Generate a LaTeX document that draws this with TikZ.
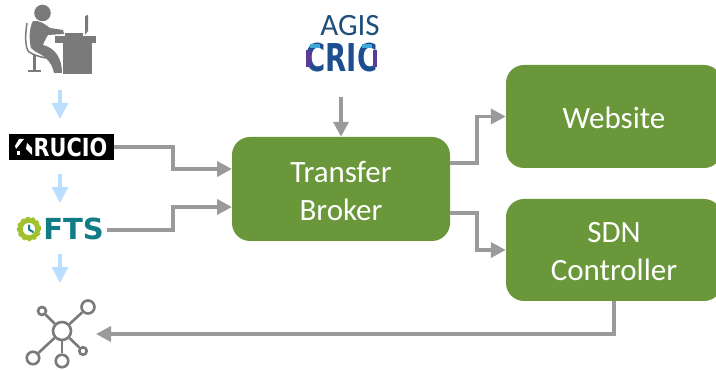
\documentclass[tikz,border=0pt]{standalone}
\usepackage{fontspec}
\setmainfont{Carlito}
\newfontfamily\logofont{DejaVu Sans}
\usetikzlibrary{arrows.meta}
\newcommand{\lowered}[1]{\raisebox{-1.6pt}[\height][\depth]{#1}}
\definecolor{boxgreen}{HTML}{6A973A}
\definecolor{linegray}{HTML}{9A9A9A}
\definecolor{icongray}{HTML}{7A7A7A}
\definecolor{lightblue}{HTML}{BBDEFF}
\definecolor{agisblue}{HTML}{1F4E79}
\definecolor{ftsteal}{HTML}{0F7C86}
\definecolor{cricblue}{HTML}{1D4E8F}
\definecolor{cricpurple}{HTML}{5B3A9A}
\definecolor{criccyan}{HTML}{3FA7DC}
\definecolor{ftsgreen}{HTML}{A2C12F}
\tikzset{
  box/.style={draw=none,fill=boxgreen,rounded corners=18pt,text=white,align=center,font=\fontsize{31}{38}\selectfont,inner sep=0pt},
  flow/.style={draw=linegray,line width=3.6pt,-{Triangle[length=15pt,width=15pt]}},
  downarrow/.style={draw=lightblue,line width=3.3pt,-{Triangle[length=16pt,width=16pt]}},
  iconfill/.style={fill=icongray,draw=none},
  ring/.style={draw=icongray,line width=2.6pt,fill=white,circle,inner sep=0pt},
}
\begin{document}
\begin{tikzpicture}[x=1pt,y=-1pt]
\useasboundingbox (0,0) rectangle (716,371);
% boxes
\node[box,minimum width=218pt,minimum height=104pt] (broker) at (341,189) {\lowered{Transfer}\\\lowered{Broker}};
\node[box,minimum width=216pt,minimum height=103pt] (web) at (614,116.5) {\lowered{Website}};
\node[box,minimum width=216pt,minimum height=102pt] (sdn) at (614,250) {\lowered{SDN}\\\lowered{Controller}};
% AGIS
\node[text=agisblue,font=\fontsize{31}{32}\selectfont,inner sep=0pt] (agis) at (350,26) {AGIS};
\node[text=cricblue,font=\logofont\bfseries\fontsize{27}{28}\selectfont,inner sep=0pt] (cric) at (341.5,58) {\scalebox{1.02}[1.42]{CRIC}};
\fill[cricpurple] (306,50) rectangle (310.5,67);
\fill[cricpurple] (372.5,50) rectangle (377,67);
\fill[criccyan] (310,44) rectangle (320,48);
\fill[criccyan] (362,44) rectangle (372,48);
% Rucio
\node[fill=black,text=white,font=\logofont\bfseries\fontsize{20}{20}\selectfont,minimum width=105pt,minimum height=26pt,inner sep=0pt] (rucio) at (61.5,147) {\hspace{18pt}\scalebox{1.04}[1.25]{RUCIO}};
\fill[white] (19,139) -- (24,139) -- (16,149) -- (15,146) -- cycle;
\fill[white] (17,151) rectangle (20,155);
\fill[white] (27,143) -- (32,148) -- (32,155) -- (26,149) -- cycle;
% FTS
\node[text=ftsteal,font=\logofont\bfseries\fontsize{29}{30}\selectfont,inner sep=0pt] (fts) at (73.5,229) {FTS};
\node[circle,inner sep=0pt,minimum size=0pt] (gear) at (29,229) {};
\draw[line width=5pt,color=ftsgreen] (gear) circle (8.8pt);
\draw[line width=2.5pt,color=ftsgreen,dash pattern=on 3pt off 2.6pt] (gear) circle (11pt);
\draw[line width=2pt,color=ftsteal,line cap=round] (gear) ++(0,-3.5) -- ++(0,4) -- ++(4,2.5);
% person
\fill[iconfill] (42.5,13) circle (8.3pt);
\fill[iconfill] (33,21) .. controls (40,20) and (46,25) .. (50,28) -- (63,30) -- (64,34) -- (48,35)
  .. controls (46,38) and (44,42) .. (43,45) .. controls (55,48) and (62,58) .. (62,73)
  -- (54,73) .. controls (52,62) and (45,56) .. (36,52) -- (31,48)
  .. controls (29,40) and (29,28) .. (33,21) -- cycle;
\fill[iconfill] (55,36.5) rectangle (96,43);
\fill[iconfill] (63,43) rectangle (92,74);
\fill[iconfill] (85,16) -- (88,15) -- (88,31) -- (85,35) -- cycle;
\fill[iconfill] (65,33) rectangle (83,36.5);
\draw[icongray,line width=1.5pt] (27,23) .. controls (25,35) and (25,48) .. (29,52) .. controls (34,55) and (40,57) .. (46,58);
\fill[iconfill] (32.5,55) rectangle (36,71);
\fill[iconfill] (28,70) rectangle (41,72.5);
% network
\node[ring,minimum size=18pt] (hub) at (62,331) {};
\node[ring,minimum size=13pt] (n1) at (88,307) {};
\node[ring,minimum size=8pt] (n2) at (42,311) {};
\node[ring,minimum size=7.5pt] (n3) at (83,351) {};
\node[ring,minimum size=12.5pt] (n4) at (33,358) {};
\node[ring,minimum size=12.5pt] (n5) at (62,361) {};
\foreach \n in {n1,n2,n3,n4,n5} \draw[icongray,line width=2.6pt] (hub) -- (\n);
% connectors
\coordinate (r1) at (232,169);
\coordinate (f1) at (232,207);
\coordinate (a0) at (341,97);
\coordinate (f0) at (107,230);
\coordinate (b1) at (450,163);
\coordinate (b2) at (450,213);
\coordinate (nettip) at (96,334);
\draw[flow] (rucio.east) -- (173,147) -- (173,169) -- (r1);
\draw[flow] (f0) -- (173,230) -- (173,207) -- (f1);
\draw[flow] (a0) -- (broker.north);
\draw[flow] (b1) -- (477,163) -- (477,116.5) -- (web.west);
\draw[flow] (b2) -- (477,213) -- (477,250) -- (sdn.west);
\draw[flow] (sdn.south) -- (614,334) -- (nettip);
\draw[downarrow] (60,90) -- (60,119);
\draw[downarrow] (60,174) -- (60,203);
\draw[downarrow] (60,254) -- (60,283);
\end{tikzpicture}
\end{document}
